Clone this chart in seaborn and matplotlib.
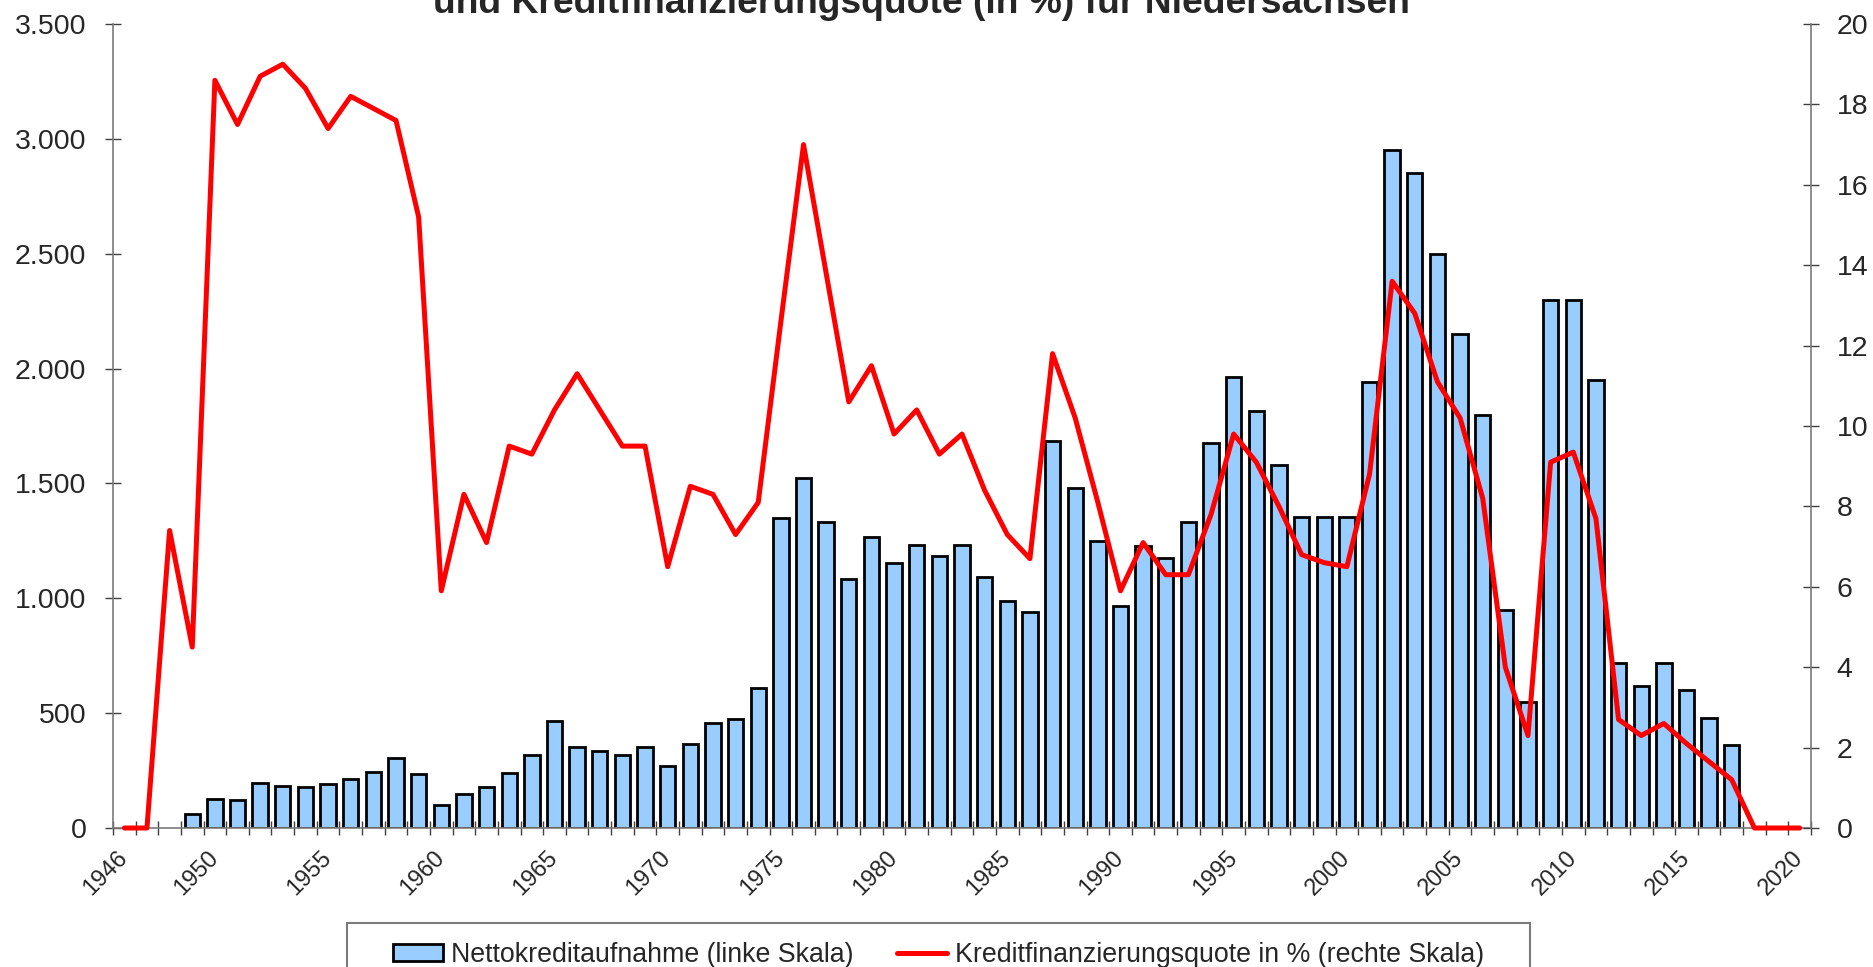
import numpy as np
import pandas as pd
import matplotlib
matplotlib.use("Agg")
import matplotlib.pyplot as plt
import matplotlib.patches as mpatches
from matplotlib.ticker import FuncFormatter
import seaborn as sns

# categories: every year 1946 - 2020
years = list(range(1946, 2021))
label_years = [1946, 1950, 1955, 1960, 1965, 1970, 1975, 1980, 1985,
               1990, 1995, 2000, 2005, 2010, 2015, 2020]

# Nettokreditaufnahme in Mio. Euro (linke Skala), no bar where nan
nettokredit = [np.nan, np.nan, np.nan,
               60, 125, 120, 195, 185, 177, 193, 212, 245, 304, 236,
               100, 149, 177, 241, 316, 465, 351, 337, 318, 354,
               271, 366, 458, 476, 611, 1350, 1524, 1332, 1086, 1268,
               1155, 1234, 1182, 1234, 1094, 988, 939, 1686, 1482, 1251,
               968, 1226, 1174, 1330, 1674, 1965, 1815, 1582, 1355, 1355,
               1355, 1940, 2952, 2850, 2500, 2150, 1800, 950, 550, 2300,
               2300, 1950, 720, 620, 720, 600, 480, 360,
               np.nan, np.nan, np.nan]

# Kreditfinanzierungsquote in % (rechte Skala)
quote = [0, 0, 7.4, 4.5, 18.6, 17.5, 18.7, 19.0, 18.4, 17.4,
         18.2, 17.9, 17.6, 15.2, 5.9, 8.3, 7.1, 9.5, 9.3, 10.4,
         11.3, 10.4, 9.5, 9.5, 6.5, 8.5, 8.3, 7.3, 8.1, 12.6,
         17.0, 13.8, 10.6, 11.5, 9.8, 10.4, 9.3, 9.8, 8.4, 7.3,
         6.7, 11.8, 10.2, 8.1, 5.9, 7.1, 6.3, 6.3, 7.8, 9.8,
         9.1, 8.0, 6.8, 6.6, 6.5, 8.8, 13.6, 12.8, 11.1, 10.2,
         8.2, 4.0, 2.3, 9.1, 9.35, 7.7, 2.7, 2.3, 2.6, 2.1,
         1.65, 1.2, 0, 0, 0]

left_ticks = [0, 500, 1000, 1500, 2000, 2500, 3000, 3500]
right_ticks = [0, 2, 4, 6, 8, 10, 12, 14, 16, 18, 20]

title = "und Kreditfinanzierungsquote (in %) für Niedersachsen"
label_bars = "Nettokreditaufnahme (linke Skala)"
label_line = "Kreditfinanzierungsquote in % (rechte Skala)"

df = pd.DataFrame({"Jahr": years, "Nettokredit": nettokredit,
                   "pos": np.arange(len(years)), "Quote": quote})

sns.set_style("white")
plt.rcParams["font.family"] = ["Liberation Sans", "DejaVu Sans"]

W, H = 1873, 967
fig = plt.figure(figsize=(W / 100, H / 100), dpi=100)
ax = fig.add_axes([113 / W, 1 - 828 / H, (1811 - 113) / W, (828 - 24) / H])

sns.barplot(data=df, x="Jahr", y="Nettokredit", order=years, color="#99CCFF",
            saturation=1, edgecolor="black", linewidth=2, width=0.68,
            errorbar=None, label=label_bars, ax=ax)

ax2 = ax.twinx()
sns.lineplot(data=df, x="pos", y="Quote", color="#FF0000", linewidth=3.6,
             solid_joinstyle="round", solid_capstyle="round",
             label=label_line, ax=ax2, clip_on=False)

n = len(years)
ax.set_xlim(-0.5, n - 0.5)
ax.set_ylim(0, 3500)
ax2.set_ylim(0, 20)

grey = "#7a7a7a"
# x axis: tick marks between categories, labels at category centres
ax.set_xticks(np.arange(-0.5, n, 1))
ax.set_xticklabels([])
ax.set_xticks([y - years[0] for y in label_years], minor=True)
ax.set_xticklabels([str(y) for y in label_years], minor=True, rotation=45,
                   ha="right", va="center", rotation_mode="anchor", fontsize=17)
ax.tick_params(axis="x", which="major", direction="inout", length=9.4,
               width=1, color="#404040", bottom=True)
ax.tick_params(axis="x", which="minor", length=0, pad=19, bottom=True)

ax.set_yticks(left_ticks)
ax.yaxis.set_major_formatter(FuncFormatter(lambda v, p: f"{v:,.0f}".replace(",", ".")))
ax.tick_params(axis="y", direction="inout", length=12.2, width=1, color="#404040",
               labelsize=20.5, pad=13, left=True)
ax2.set_yticks(right_ticks)
ax2.tick_params(axis="y", direction="inout", length=12.2, width=1, color="#404040",
                labelsize=20.5, pad=12.5, right=True)

ax.set_xlabel("")
ax.set_ylabel("")
ax2.set_xlabel("")
ax2.set_ylabel("")

for s in ["top", "right"]:
    ax.spines[s].set_visible(False)
for s in ["top", "left", "bottom"]:
    ax2.spines[s].set_visible(False)
for a, s in [(ax, "left"), (ax, "bottom"), (ax2, "right")]:
    a.spines[s].set_color(grey)
    a.spines[s].set_linewidth(1.2)

# legend collected from both axes
h1, l1 = ax.get_legend_handles_labels()
h2, l2 = ax2.get_legend_handles_labels()
for a in (ax, ax2):
    if a.get_legend() is not None:
        a.get_legend().remove()
fig.legend(h1 + h2, l1 + l2, loc="center left", bbox_to_anchor=(393 / W, 1 - 955 / H),
           ncol=2, frameon=False, borderpad=0, borderaxespad=0, handlelength=1.87,
           handleheight=0.56, handletextpad=0.3, columnspacing=1.6, fontsize=19.3)
fig.add_artist(mpatches.Rectangle((347 / W, -0.02), (1530 - 347) / W, 0.02 + (967 - 923) / H,
                                  transform=fig.transFigure, fill=False,
                                  edgecolor=grey, linewidth=1.5))

# title, first line lies outside the picture
fig.text(921 / W, 1 - 13 / H, title, ha="center", va="baseline",
         fontsize=26.8, fontweight="bold")

fig.savefig("out.png", dpi=100)
